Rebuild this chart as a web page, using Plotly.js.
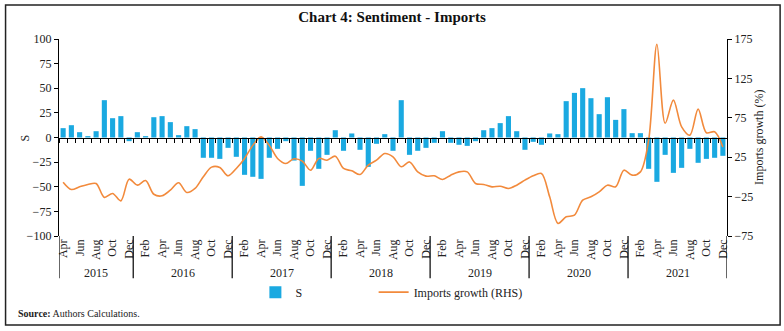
<!DOCTYPE html>
<html>
<head>
<meta charset="utf-8">
<script src="https://cdn.plot.ly/plotly-3.0.1.min.js"></script>
<style>
  html, body { margin: 0; padding: 0; background: #ffffff; }
  #chart { width: 784px; height: 331px; }
</style>
</head>
<body>
<div id="chart"></div>
<script>
// ---- Data ----
const years = [2015, 2016, 2017, 2018, 2019, 2020, 2021];
const monthNames = ['Jan','Feb','Mar','Apr','May','Jun','Jul','Aug','Sep','Oct','Nov','Dec'];
const firstMonthIndex = 3; // series starts Apr 2015

const sentiment = [
  9.5, 12.5, 5.4, 1.4, 6.4, 37.9, 19.6, 21.7, -3.7,
  5.4, 1.4, 20.6, 21.7, 15.6, 2.4, 11.5, 8.5, -20.6, -20.6, -21.7, -10.5,
  -19.6, -37.9, -39.9, -42, -20.6, -11.5, -3.7, -23.4, -49.1, -13.5, -31.8, -17.6,
  7.4, -13.5, 4.1, -12.5, -29.8, -6.4, 3.4, -13.5, 37.9, -17.6, -13.5, -10.5,
  -5.4, 6.4, -5.4, -7.4, -8.5, -3.7, 7.4, 9.5, 14.6, 21.7, 6.4, -12.5,
  -4.4, -7.4, 4.1, 3.4, 36.9, 45.3, 50.1, 39.9, 23.7, 40.9, 17.9, 28.8,
  4.4, 4.4, -31.8, -45, -17.6, -35.9, -30.8, -11.5, -25.7, -21.7, -20.6, -18.6
];

const importsGrowth = [
  -6.7, -16, -12.6, -9.6, -8.4, -26, -21, -30.4, -2.9,
  -10.5, -4.6, -22, -24, -16.8, -7.5, -19.8, -14.7, 0.1, 12.4, 11.9, 1.4,
  10.7, 23.4, 40, 50.8, 40, 23.4, 17, 23, 20, 8.5, 23.4, 21.2,
  26.3, 10.7, 7.7, 3, 14.9, 21.2, 29.7, 25.5, 12.8, 19, 6.4, 1,
  1.4, -3.3, 2.2, 6.4, 6.4, -8.4, -9.6, -12.6, -11.8, -14.7, -10.5, -4.1,
  1.4, 4.3, -25.3, -59, -50.7, -48.6, -29.5, -25.3, -19, -10.5, -12.6, 8.5,
  2.2, 6.4, 46.6, 168.4, 68, 97.4, 63.5, 53, 86, 56, 57.2, 38
];

// ---- Build categories ----
const categories = [];
const monthOf = [];
const yearOf = [];
years.forEach((y, yi) => {
  const start = yi === 0 ? firstMonthIndex : 0;
  for (let m = start; m < 12; m++) {
    categories.push(monthNames[m] + ' ' + y);
    monthOf.push(m);
    yearOf.push(y);
  }
});
const tickVals = categories.filter((c, i) => monthOf[i] % 2 === 1);
const tickText = categories.filter((c, i) => monthOf[i] % 2 === 1).map(c => c.split(' ')[0]);

// year blocks
const yearBlocks = years.map(y => {
  const idx = yearOf.map((v, i) => v === y ? i : -1).filter(i => i >= 0);
  return { year: y, first: idx[0], last: idx[idx.length - 1] };
});

const FONT = 'Liberation Serif, DejaVu Serif, serif';
const TXT = '#222222';

const annotations = yearBlocks.map(b => ({
  x: (b.first + b.last) / 2, xref: 'x', y: -0.19, yref: 'paper',
  text: String(b.year), showarrow: false, xanchor: 'center', yanchor: 'middle',
  font: { family: FONT, size: 12, color: TXT }
}));
annotations.push({
  x: -0.064, xref: 'paper', y: -0.392, yref: 'paper', xanchor: 'left', yanchor: 'middle',
  text: '<b>Source:</b> Authors Calculations.', showarrow: false,
  font: { family: FONT, size: 10, color: TXT }
});
// axis titles
annotations.push({
  x: -0.051, xref: 'paper', y: 0.5, yref: 'paper', xanchor: 'center', yanchor: 'middle',
  text: 'S', textangle: -90, showarrow: false, font: { family: FONT, size: 12, color: TXT }
});
annotations.push({
  x: 1.047, xref: 'paper', y: 0.5, yref: 'paper', xanchor: 'center', yanchor: 'middle',
  text: 'Imports growth (%)', textangle: -90, showarrow: false, font: { family: FONT, size: 12, color: TXT }
});

const shapes = [];
// year separators (boundaries)
yearBlocks.forEach(b => {
  shapes.push({ type: 'line', xref: 'x', yref: 'paper', x0: b.first - 0.5, x1: b.first - 0.5,
    y0: 0, y1: -0.215, line: { color: '#000', width: 1.2 } });
});
shapes.push({ type: 'line', xref: 'x', yref: 'paper',
  x0: yearBlocks[yearBlocks.length - 1].last + 0.5, x1: yearBlocks[yearBlocks.length - 1].last + 0.5,
  y0: 0, y1: -0.215, line: { color: '#000', width: 1.2 } });
// outer frame
shapes.push({ type: 'rect', xref: 'paper', yref: 'paper', x0: -0.08, x1: 1.0795, y0: -0.452, y1: 1.1725,
  line: { color: '#222', width: 1.5 }, fillcolor: 'rgba(0,0,0,0)' });

const traces = [
  {
    type: 'bar', name: 'S', x: categories, y: sentiment,
    marker: { color: '#1aa9e1' }, xaxis: 'x', yaxis: 'y', legend: 'legend'
  },
  {
    type: 'scatter', mode: 'lines', name: 'Imports growth (RHS)', x: categories, y: importsGrowth,
    line: { color: '#f28a3c', width: 1.6, shape: 'spline', smoothing: 0.9 },
    xaxis: 'x2', yaxis: 'y2', legend: 'legend2'
  }
];

const legendBase = {
  orientation: 'h', y: -0.285, yanchor: 'middle', xanchor: 'left',
  font: { family: FONT, size: 12, color: TXT }, bgcolor: 'rgba(0,0,0,0)'
};

const layout = {
  width: 784, height: 331,
  paper_bgcolor: '#ffffff', plot_bgcolor: 'rgba(0,0,0,0)',
  margin: { l: 58.5, r: 57, t: 39, b: 95 },
  font: { family: FONT, size: 12, color: TXT },
  title: {
    text: '<b>Chart 4: Sentiment - Imports</b>', x: 0.5, xref: 'container', xanchor: 'center',
    y: 0.948, yref: 'container', yanchor: 'middle',
    font: { family: FONT, size: 15, color: '#111' }
  },
  bargap: 0.38,
  showlegend: true,
  legend: Object.assign({}, legendBase, { x: 0.294 }),
  legend2: Object.assign({}, legendBase, { x: 0.471 }),
  xaxis: {
    type: 'category', categoryorder: 'array', categoryarray: categories,
    range: [-0.5, categories.length - 0.5],
    tickmode: 'array', tickvals: tickVals, ticktext: tickText, tickangle: -90,
    ticks: '', showline: false, showgrid: false, zeroline: false,
    tickfont: { family: FONT, size: 12, color: TXT }, fixedrange: true
  },
  xaxis2: {
    type: 'category', categoryorder: 'array', categoryarray: categories,
    range: [-0.5, categories.length - 0.5], overlaying: 'x', anchor: 'free', position: 0.5,
    side: 'bottom', showticklabels: false, showline: true, linecolor: '#000', linewidth: 1.5,
    ticks: 'outside', ticklen: 4, tickcolor: '#000', tickwidth: 1, tickson: 'boundaries',
    tickmode: 'linear', tick0: 0, dtick: 1, showgrid: false, zeroline: false
  },
  yaxis: {
    range: [-100, 100], dtick: 25, tick0: 0, ticks: 'outside', ticklen: 4, tickcolor: '#000',
    showline: true, linecolor: '#000', linewidth: 1.2, showgrid: false, zeroline: false,
    tickfont: { family: FONT, size: 12, color: TXT }
  },
  yaxis2: {
    range: [-75, 175], dtick: 50, tick0: -75, overlaying: 'y', side: 'right', anchor: 'x',
    ticks: 'outside', ticklen: 4, tickcolor: '#000',
    showline: true, linecolor: '#000', linewidth: 1.2, showgrid: false, zeroline: false,
    tickfont: { family: FONT, size: 12, color: TXT }
  },
  annotations: annotations,
  shapes: shapes
};

Plotly.newPlot('chart', traces, layout, { displayModeBar: false, staticPlot: true });
</script>
</body>
</html>
